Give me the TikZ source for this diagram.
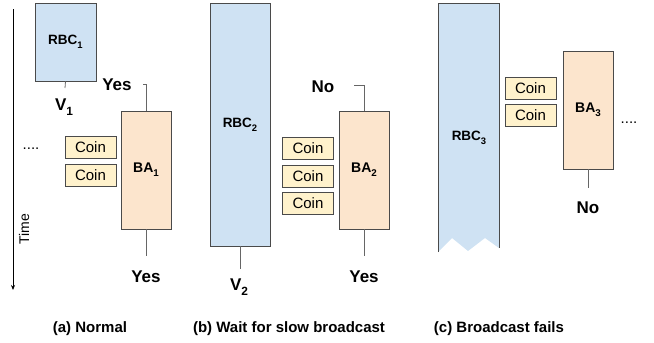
\documentclass[tikz,border=0pt]{standalone}
\usepackage{fontspec}
\usepackage{graphicx}
\setmainfont{Liberation Sans}
\usetikzlibrary{arrows.meta}
\definecolor{rbcfill}{HTML}{CFE2F3}
\definecolor{bafill}{HTML}{FCE5CD}
\definecolor{coinfill}{HTML}{FFF2CC}
\definecolor{edge}{HTML}{4A4A4A}
\definecolor{wiregray}{HTML}{666666}
\newcommand{\lowidx}[1]{\raisebox{-0.3em}{\scalebox{0.7}{#1}}}
\begin{document}
\begin{tikzpicture}
    [
        x=1pt, y=-1pt,
        basic/.style = {draw=edge, line width=0.8pt, inner sep=0pt, text centered},
        rbc/.style = {basic, fill=rbcfill, minimum width=61pt, font=\fontsize{13.5}{14}\selectfont\bfseries},
        rbclabel/.style = {inner sep=0pt, font=\fontsize{13.5}{14}\selectfont\bfseries},
        ba/.style = {basic, fill=bafill, minimum width=50pt, minimum height=118pt, font=\fontsize{14}{15}\selectfont\bfseries},
        coin/.style = {basic, fill=coinfill, minimum width=51pt, minimum height=22pt, font=\fontsize{15}{16}\selectfont},
        answer/.style = {inner sep=0pt, anchor=base, font=\fontsize{17}{18}\selectfont\bfseries},
        dots/.style = {inner sep=0pt, anchor=base, font=\fontsize{15}{16}\selectfont},
        caption/.style = {inner sep=0pt, anchor=base, font=\fontsize{15}{16}\selectfont\bfseries},
        wire/.style = {draw=wiregray, line width=0.8pt},
        >={Stealth[length=5pt, width=4pt]}
    ]
    \useasboundingbox (0,0) rectangle (654,343);

    % time axis
    \coordinate (ttop) at (13,9);
    \coordinate (tbot) at (13,290);
    \draw [->, line width=0.8pt] (ttop) -- (tbot);
    \node [rotate=90, inner sep=0pt, font=\fontsize{14}{15}\selectfont] (time) at (24,229) {Time};

    % (a)
    \node [rbc, minimum height=78pt] (rbc1) at (65.5,42) {RBC\lowidx{1}};
    \node [ba] (ba1) at (146,170) {BA\lowidx{1}};
    \node [coin] (coin1a) at (90.5,147) {Coin};
    \node [coin] (coin1b) at (90.5,175) {Coin};
    \node [dots] (dots1) at (31,149) {....};
    \node [answer] (v1) at (64,110) {V\lowidx{1}};
    \node [answer] (yes1a) at (117,90) {Yes};
    \node [answer] (yes1b) at (146,282) {Yes};
    \coordinate (hook1) at (143,84);
    \coordinate (tail1) at (146,256);
    \coordinate (tailv1) at (65,88);
    \draw [wire] (hook1) -| (ba1.north);
    \draw [wire] (ba1.south) -- (tail1);
    \draw [wire] (rbc1.south) -- (tailv1);
    \node [caption] (capa) at (90,332) {(a) Normal};

    % (b)
    \node [rbc, minimum height=243pt, minimum width=60pt] (rbc2) at (240,124.5) {RBC\lowidx{2}};
    \node [ba] (ba2) at (364,170) {BA\lowidx{2}};
    \foreach \y/\n in {148/a, 176/b, 203/c} \node [coin] (coin2\n) at (308,\y) {Coin};
    \node [answer] (v2) at (239,290) {V\lowidx{2}};
    \node [answer] (no2) at (323,92) {No};
    \node [answer] (yes2) at (364,282) {Yes};
    \coordinate (hook2) at (354,85);
    \coordinate (tail2) at (364,256);
    \coordinate (tailv2) at (240,269);
    \draw [wire] (hook2) -| (ba2.north);
    \draw [wire] (ba2.south) -- (tail2);
    \draw [wire] (rbc2.south) -- (tailv2);
    \node [caption] (capb) at (289,332) {(b) Wait for slow broadcast};

    % (c)
    \fill [rbcfill] (438,3) -- (499,3) -- (499,248) -- (485,238) -- (468,251) -- (452,238) -- (438,252) -- cycle;
    \draw [edge, line width=0.8pt] (438,252) -- (438,3) -- (499,3) -- (499,248);
    \node [rbclabel] (rbc3) at (469,138) {RBC\lowidx{3}};
    \node [ba] (ba3) at (588,110) {BA\lowidx{3}};
    \node [coin] (coin3a) at (530.5,88) {Coin};
    \node [coin] (coin3b) at (530.5,115) {Coin};
    \node [dots] (dots3) at (629,123) {....};
    \node [answer] (no3) at (588,213) {No};
    \coordinate (tail3) at (588,188);
    \draw [wire] (ba3.south) -- (tail3);
    \node [caption] (capc) at (499,332) {(c) Broadcast fails};

\end{tikzpicture}
\end{document}
